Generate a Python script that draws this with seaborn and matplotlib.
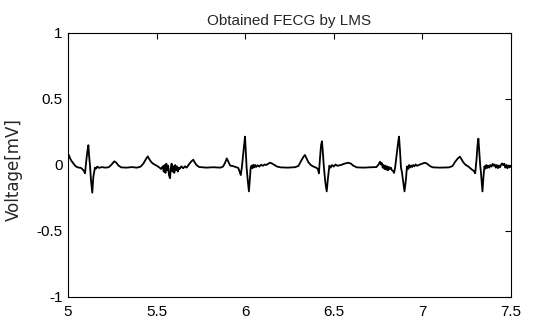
import matplotlib
matplotlib.use("Agg")
import matplotlib.pyplot as plt
import seaborn as sns
import pandas as pd

# ---- data ----
time_s = [
    5.000, 5.005, 5.012, 5.020, 5.030, 5.040, 5.050, 5.060, 5.070, 5.080,
    5.090, 5.096, 5.103, 5.109, 5.115, 5.119, 5.124, 5.130, 5.137, 5.143,
    5.152, 5.158, 5.165, 5.175, 5.190, 5.210, 5.230, 5.245, 5.261, 5.272,
    5.285, 5.300, 5.330, 5.360, 5.390, 5.410, 5.425, 5.440, 5.450, 5.460,
    5.470, 5.480, 5.500, 5.515, 5.525, 5.535, 5.540, 5.545, 5.550, 5.555,
    5.560, 5.565, 5.570, 5.576, 5.580, 5.585, 5.590, 5.595, 5.600, 5.605,
    5.610, 5.615, 5.620, 5.625, 5.630, 5.640, 5.650, 5.660, 5.670, 5.680,
    5.690, 5.700, 5.707, 5.715, 5.725, 5.740, 5.780, 5.820, 5.860, 5.875,
    5.886, 5.896, 5.905, 5.915, 5.930, 5.945, 5.955, 5.961, 5.968, 5.975,
    5.981, 5.986, 5.993, 5.999, 6.004, 6.008, 6.014, 6.021, 6.026, 6.031,
    6.036, 6.041, 6.046, 6.051, 6.056, 6.062, 6.070, 6.080, 6.090, 6.100,
    6.110, 6.120, 6.130, 6.140, 6.150, 6.165, 6.180, 6.200, 6.240, 6.280,
    6.300, 6.315, 6.328, 6.337, 6.346, 6.356, 6.370, 6.385, 6.400, 6.410,
    6.416, 6.422, 6.428, 6.433, 6.437, 6.442, 6.447, 6.453, 6.460, 6.467,
    6.475, 6.482, 6.490, 6.500, 6.510, 6.520, 6.540, 6.560, 6.580, 6.595,
    6.610, 6.630, 6.670, 6.710, 6.740, 6.752, 6.761, 6.766, 6.771, 6.776,
    6.781, 6.786, 6.791, 6.796, 6.801, 6.806, 6.811, 6.816, 6.822, 6.828,
    6.834, 6.840, 6.846, 6.855, 6.862, 6.868, 6.874, 6.879, 6.884, 6.892,
    6.899, 6.907, 6.913, 6.920, 6.925, 6.930, 6.936, 6.942, 6.948, 6.955,
    6.962, 6.970, 6.980, 6.990, 7.000, 7.012, 7.024, 7.035, 7.048, 7.060,
    7.100, 7.150, 7.170, 7.185, 7.200, 7.212, 7.222, 7.232, 7.245, 7.260,
    7.275, 7.290, 7.298, 7.306, 7.311, 7.316, 7.321, 7.326, 7.330, 7.334,
    7.339, 7.344, 7.350, 7.356, 7.361, 7.366, 7.371, 7.377, 7.383, 7.390,
    7.396, 7.402, 7.408, 7.414, 7.420, 7.426, 7.432, 7.438, 7.444, 7.450,
    7.456, 7.462, 7.468, 7.474, 7.480, 7.486, 7.492, 7.500,
]

voltage_mv = [
    0.080, 0.075, 0.050, 0.030, 0.012, -0.005, -0.015, -0.020, -0.020, -0.030,
    -0.045, -0.063, 0.030, 0.100, 0.150, 0.070, 0.000, -0.120, -0.210, -0.090,
    -0.020, -0.028, -0.012, -0.022, -0.016, -0.020, -0.017, 0.002, 0.028, 0.018,
    -0.004, -0.018, -0.020, -0.016, -0.020, -0.012, 0.010, 0.045, 0.065, 0.042,
    0.022, 0.010, -0.005, -0.018, -0.030, -0.010, -0.050, 0.000, -0.060, 0.010,
    -0.040, -0.005, -0.080, -0.100, -0.020, 0.010, -0.050, -0.010, -0.060, 0.000,
    -0.040, -0.010, -0.050, -0.020, -0.030, -0.010, -0.025, -0.010, -0.020, 0.000,
    0.018, 0.032, 0.040, 0.020, 0.000, -0.015, -0.020, -0.017, -0.020, -0.012,
    0.015, 0.050, 0.025, -0.004, -0.008, -0.015, -0.020, -0.022, -0.050, -0.076,
    -0.020, 0.050, 0.140, 0.215, 0.080, -0.020, -0.110, -0.200, -0.110, -0.020,
    -0.005, -0.025, 0.002, -0.018, 0.000, -0.015, -0.002, -0.012, 0.002, -0.006,
    0.004, 0.000, 0.010, 0.017, 0.012, 0.000, -0.012, -0.018, -0.020, -0.017,
    -0.008, 0.030, 0.060, 0.076, 0.050, 0.022, 0.000, -0.012, -0.020, -0.030,
    -0.063, 0.050, 0.150, 0.180, 0.120, 0.020, -0.060, -0.140, -0.200, -0.100,
    -0.005, -0.020, 0.000, -0.012, 0.004, -0.006, 0.000, 0.010, 0.017, 0.012,
    -0.005, -0.018, -0.020, -0.017, -0.016, 0.002, 0.025, 0.004, 0.015, -0.020,
    0.000, -0.030, -0.005, -0.035, -0.010, -0.040, -0.015, -0.030, -0.020, -0.040,
    -0.045, -0.060, -0.020, 0.080, 0.160, 0.215, 0.100, -0.020, -0.050, -0.130,
    -0.200, -0.110, -0.010, -0.030, 0.000, -0.020, -0.004, -0.015, 0.000, -0.010,
    0.004, -0.006, 0.000, 0.006, 0.010, 0.017, 0.012, 0.000, -0.012, -0.018,
    -0.020, -0.018, -0.008, 0.025, 0.050, 0.063, 0.040, 0.018, 0.000, -0.012,
    -0.030, -0.045, -0.063, 0.050, 0.150, 0.200, 0.100, 0.000, -0.050, -0.120,
    -0.200, -0.100, -0.010, -0.028, 0.000, -0.022, -0.005, -0.020, 0.000, -0.012,
    0.008, -0.006, 0.004, -0.020, 0.000, -0.024, -0.004, -0.018, 0.002, 0.012,
    -0.002, 0.010, -0.020, 0.000, -0.025, -0.004, -0.018, -0.010,
]

x_ticks = [5, 5.5, 6, 6.5, 7, 7.5]
x_tick_labels = ["5", "5.5", "6", "6.5", "7", "7.5"]
y_ticks = [-1, -0.5, 0, 0.5, 1]
y_tick_labels = ["-1", "-0.5", "0", "0.5", "1"]
title_text = "Obtained FECG by LMS"
ylabel_text = "Voltage[mV]"

assert len(time_s) == len(voltage_mv)
df = pd.DataFrame({"t": time_s, "v": voltage_mv})

sns.set_style("white")
plt.rcParams["font.family"] = ["Liberation Sans", "DejaVu Sans"]

fig = plt.figure(figsize=(5.33, 3.26), dpi=100)
ax = fig.add_axes([68 / 533, 29 / 326, 443 / 533, 264 / 326])

sns.lineplot(data=df, x="t", y="v", ax=ax, color="black", linewidth=1.3,
             estimator=None, sort=False, legend=False)

ax.set_xlim(5, 7.5)
ax.set_ylim(-1, 1)
ax.set_xticks(x_ticks)
ax.set_xticklabels(x_tick_labels)
ax.set_yticks(y_ticks)
ax.set_yticklabels(y_tick_labels)
ax.tick_params(direction="in", length=4, width=0.8, colors="black",
               top=True, right=True, labelsize=11)
ax.tick_params(axis="x", pad=5.5)
ax.tick_params(axis="y", pad=4)
for s in ax.spines.values():
    s.set_visible(True)
    s.set_color("black")
    s.set_linewidth(0.8)
ax.set_xlabel("")
ax.set_ylabel(ylabel_text, fontsize=12, family=["DejaVu Sans"])
ax.yaxis.set_label_coords(-0.102, 0.481)
ax.set_title(title_text, fontsize=11, pad=6)
ax.grid(False)

fig.savefig("out.png", dpi=100)
